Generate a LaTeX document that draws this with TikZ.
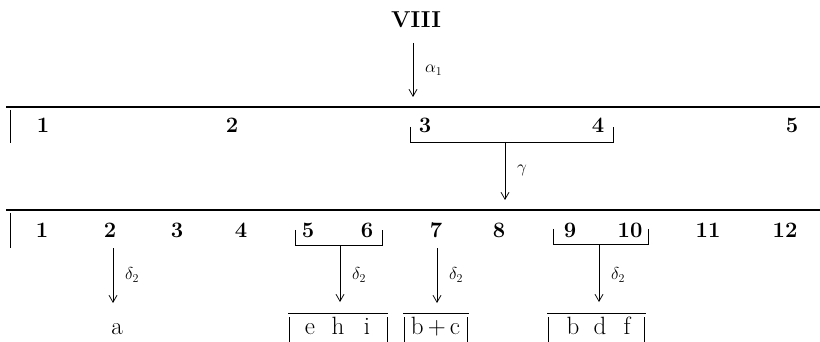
\documentclass[tikz,border=0pt]{standalone}
\usepackage{fontspec}
\usetikzlibrary{arrows.meta}
\begin{document}
\begin{tikzpicture}[x=1pt,y=-1pt,
  rule/.style={line width=1.2pt},
  thin/.style={line width=0.75pt},
  arr/.style={thin,-{Straight Barb[length=7pt,width=8pt,line width=0.75pt]}},
  num/.style={font=\fontsize{22}{26}\selectfont\bfseries,anchor=base,inner sep=0pt},
  lett/.style={font=\fontsize{25}{29}\selectfont,anchor=base,inner sep=0pt},
  lbl/.style={font=\fontsize{17}{19}\selectfont,anchor=west,inner sep=0pt}]
\useasboundingbox (0,0) rectangle (820,342);

% heading
\node[font=\fontsize{23}{27}\selectfont\bfseries,anchor=base,inner sep=0pt] (viii) at (416,28) {VIII};
\coordinate (a1s) at (413,43);
\coordinate (a1e) at (413,97);
\draw[arr] (a1s) -- (a1e);
\node[lbl] (a1lab) at (425,70) {$\alpha_1$};

% first row
\coordinate (r1l) at (6,107);
\coordinate (r1r) at (820,107);
\draw[rule] (r1l) -- (r1r);
\draw[thin] (10,110) -- (10,143);
\node[num] (r1n1) at (43,133) {1};
\node[num] (r1n2) at (232,133) {2};
\node[num] (r1n3) at (425,133) {3};
\node[num] (r1n4) at (598,133) {4};
\node[num] (r1n5) at (792,133) {5};
% bracket under 3 and 4
\draw[thin] (410,127) -- (410,142) -- (613,142) -- (613,127);
\coordinate (gs) at (505,142);
\coordinate (ge) at (505,200);
\draw[arr] (gs) -- (ge);
\node[lbl] (glab) at (517,170) {$\gamma$};

% second row
\coordinate (r2l) at (6,210);
\coordinate (r2r) at (820,210);
\draw[rule] (r2l) -- (r2r);
\draw[thin] (10,213) -- (10,248);
\foreach \n/\x in {1/42,2/110,3/177,4/241,5/308,6/367,7/436,8/499,9/570,10/630,11/708,12/785}
  \node[num] (r2n\n) at (\x,237) {\n};
% brackets under 5,6 and 9,10
\draw[thin] (295,230) -- (295,245) -- (382,245) -- (382,230);
\draw[thin] (553,229) -- (553,244) -- (648,244) -- (648,229);

% delta arrows
\coordinate (d1s) at (113,248);  \coordinate (d1e) at (113,303);
\coordinate (d2s) at (340,245);  \coordinate (d2e) at (340,302);
\coordinate (d3s) at (437,248);  \coordinate (d3e) at (437,303);
\coordinate (d4s) at (599,244);  \coordinate (d4e) at (599,302);
\draw[arr] (d1s) -- (d1e);
\draw[arr] (d2s) -- (d2e);
\draw[arr] (d3s) -- (d3e);
\draw[arr] (d4s) -- (d4e);
\node[lbl] (d1lab) at (125,275) {$\delta_2$};
\node[lbl] (d2lab) at (352,275) {$\delta_2$};
\node[lbl] (d3lab) at (449,275) {$\delta_2$};
\node[lbl] (d4lab) at (611,275) {$\delta_2$};

% results
\node[lett] (ra) at (117,334) {a};
\draw[thin] (288,313) -- (388,313);
\draw[thin] (289,317) -- (289,342);
\draw[thin] (387,317) -- (387,342);
\node[lett] (re) at (310,334) {e};
\node[lett] (rh) at (338,334) {h};
\node[lett] (ri) at (367,334) {i};

\draw[thin] (403,313) -- (469,313);
\draw[thin] (404,317) -- (404,342);
\draw[thin] (467,317) -- (467,342);
\node[lett] (rbc) at (435.5,334) {b$\,+\,$c};

\draw[thin] (547,313) -- (646,313);
\draw[thin] (548,317) -- (548,342);
\draw[thin] (644,317) -- (644,342);
\node[lett] (rb) at (573,334) {b};
\node[lett] (rd) at (600,334) {d};
\node[lett] (rf) at (627,334) {f};
\end{tikzpicture}
\end{document}
